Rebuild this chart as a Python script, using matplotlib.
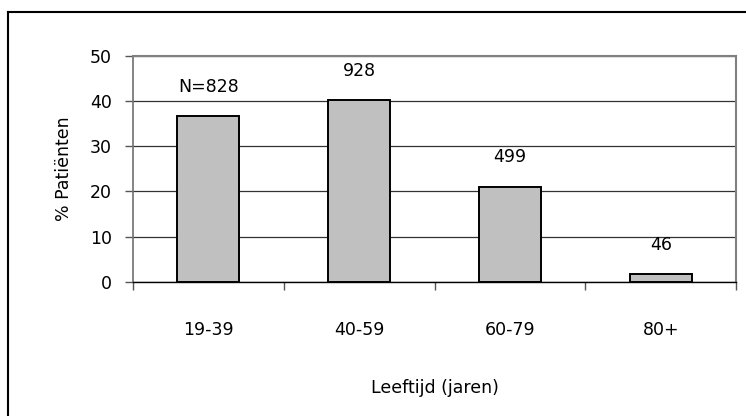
import matplotlib.pyplot as plt
from matplotlib.lines import Line2D

# age groups, share of patients (%) and group sizes
age_groups = ['19-39', '40-59', '60-79', '80+']
pct_patients = [36.7, 40.2, 21.1, 1.8]
n_patients = [828, 928, 499, 46]
count_labels = ['N=828', '928', '499', '46']

y_ticks = [0, 10, 20, 30, 40, 50]

plt.rcParams['font.family'] = 'DejaVu Sans'
fs = 12.5

fig = plt.figure(figsize=(7.46, 4.16), dpi=100)
ax = fig.add_axes([0.1779, 0.3221, 0.8091, 0.544])

x = range(len(age_groups))
bars = ax.bar(x, pct_patients, width=0.41, color='#c0c0c0',
              edgecolor='black', linewidth=1.4, zorder=3)

for i in range(len(pct_patients)):
    ax.annotate(count_labels[i], (i, pct_patients[i]), xytext=(0, 21),
                textcoords='offset points', ha='center', va='center',
                fontsize=fs)

ax.set_xlim(-0.5, len(age_groups) - 0.5)
ax.set_ylim(0, 50)
ax.set_yticks(y_ticks)
ax.set_yticklabels([str(v) for v in y_ticks], fontsize=fs)

# ticks sit on the category boundaries, labels in the middle
ax.set_xticks([i - 0.5 for i in range(len(age_groups) + 1)])
ax.set_xticklabels([])
ax.set_xticks(list(x), minor=True)
ax.set_xticklabels(age_groups, minor=True, fontsize=fs)
ax.tick_params(axis='x', which='major', direction='out', length=6,
               width=1, color='#555555')
ax.tick_params(axis='x', which='minor', length=0, pad=28)
ax.tick_params(axis='y', direction='out', length=6, width=1,
               color='#555555', pad=9)

ax.yaxis.grid(True, color='#333333', linewidth=0.9, zorder=0)
ax.set_axisbelow(True)

for side in ['top', 'right']:
    ax.spines[side].set_color('#808080')
    ax.spines[side].set_linewidth(1.5)
ax.spines['left'].set_color('#707070')
ax.spines['left'].set_linewidth(1.2)
ax.spines['bottom'].set_color('black')
ax.spines['bottom'].set_linewidth(1.0)

ax.set_ylabel('% Patiënten', fontsize=fs, labelpad=12)
ax.set_xlabel('Leeftijd (jaren)', fontsize=fs, labelpad=29)

# frame around the chart
W, H = 746, 416
fig.add_artist(Line2D([8 / W, 8 / W], [0, 1 - 12 / H], color='black',
                      linewidth=1.5, transform=fig.transFigure))
fig.add_artist(Line2D([8 / W, 1], [1 - 12 / H, 1 - 12 / H], color='black',
                      linewidth=1.5, transform=fig.transFigure))

fig.savefig('out.png', dpi=100)
